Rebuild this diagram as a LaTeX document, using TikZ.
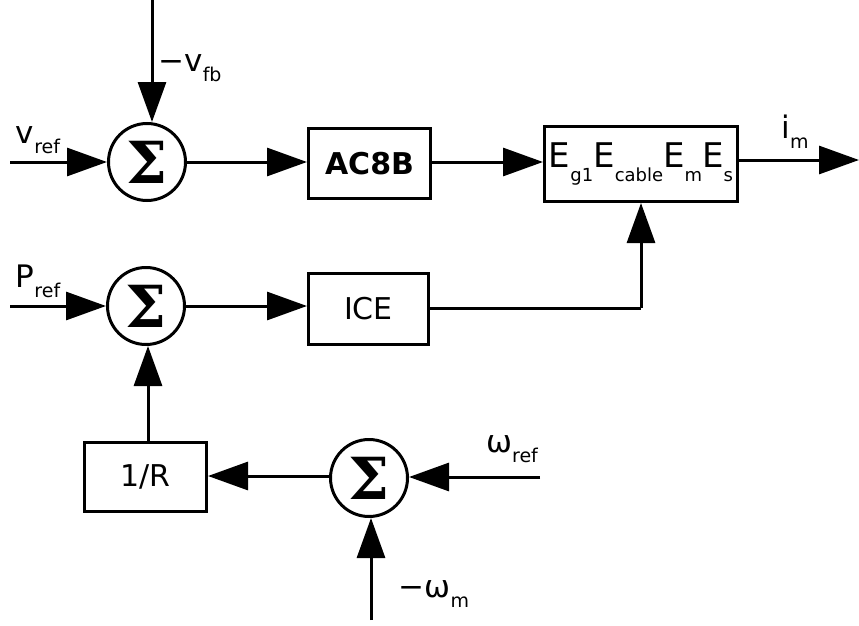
\documentclass[tikz,border=0pt]{standalone}
\usepackage{fontspec}
\setmainfont{DejaVu Sans}
\newfontfamily\sigmafont{DejaVu Serif}
\usetikzlibrary{arrows.meta}

% label with a lowered subscript
\newcommand{\sigsub}[2]{#1\raisebox{-10pt}{\fontsize{19}{19}\selectfont #2}}

\tikzset{
  sumnode/.style={circle, draw, line width=3pt, minimum size=77pt, inner sep=0pt,
    font=\fontsize{58}{58}\selectfont\sigmafont\bfseries},
  blockbox/.style={rectangle, draw, line width=3pt, inner sep=0pt,
    font=\fontsize{30}{30}\selectfont},
  sig/.style={line width=3pt, -{Triangle[length=40pt,width=28pt]}},
  wire/.style={line width=3pt},
  lbl/.style={inner sep=0pt, font=\fontsize{31}{31}\selectfont}
}

\begin{document}
\begin{tikzpicture}[x=1pt,y=-1pt]
\useasboundingbox (0,0) rectangle (859,626);

% Summing junctions
\node[sumnode] (sumv) at (147,162) {Σ};
\node[sumnode] (sump) at (146,306) {Σ};
\node[sumnode] (sumw) at (369,478) {Σ};

% Blocks
\node[blockbox, minimum width=122pt, minimum height=70pt, font=\fontsize{30}{30}\selectfont\bfseries] (ac8b) at (369.5,163.5) {AC8B};
\node[blockbox, minimum width=120pt, minimum height=71pt] (ice) at (368.5,309) {ICE};
\node[blockbox, minimum width=122pt, minimum height=69pt] (gain) at (145.5,477) {1/R};
\node[blockbox, minimum width=193pt, minimum height=75pt, font=\fontsize{34}{34}\selectfont] (plant) at (641,164)
  {E\raisebox{-14pt}{\fontsize{18}{18}\selectfont g1}E\raisebox{-14pt}{\fontsize{18}{18}\selectfont cable}E\raisebox{-14pt}{\fontsize{18}{18}\selectfont m}E\raisebox{-14pt}{\fontsize{18}{18}\selectfont s}};

% Free ends of the inputs and the output
\coordinate (vin) at (10,162);
\coordinate (vfb) at (152,0);
\coordinate (pin) at (10,306);
\coordinate (win) at (540,477);
\coordinate (wm) at (371,620);
\coordinate (imout) at (859,160);
\coordinate (icecorner) at (641,308);

% Top row
\draw[sig] (vin) -- (sumv.west);
\draw[sig] (vfb) -- (vfb |- sumv.north);
\draw[sig] (sumv.east) -- (ac8b.west |- sumv.east);
\draw[sig] (ac8b.east |- sumv.east) -- (plant.west |- sumv.east);
\draw[sig] (plant.east |- imout) -- (imout);

% Middle row
\draw[sig] (pin) -- (sump.west);
\draw[sig] (sump.east) -- (ice.west |- sump.east);
\draw[wire] (ice.east |- icecorner) -- (icecorner);
\draw[sig] (icecorner) -- (plant.south -| icecorner);

% Bottom row
\draw[sig] (win) -- (sumw.east |- win);
\draw[sig] (wm) -- (wm |- sumw.south);
\draw[sig] (sumw.west |- 0,476) -- (gain.east |- 0,476);
\draw[sig] (gain.north -| 148,0) -- (sump.south -| 148,0);

% Signal labels
\node[lbl] (vreflbl) at (38,140) {\sigsub{v}{ref}};
\node[lbl] (vfblbl) at (190,68) {\sigsub{−v}{fb}};
\node[lbl] (preflbl) at (38,281) {\sigsub{P}{ref}};
\node[lbl] (imlbl) at (795,132) {\sigsub{i}{m}};
\node[lbl] (wreflbl) at (512,449) {\sigsub{ω}{ref}};
\node[lbl] (wmlbl) at (434,594) {\sigsub{−ω}{m}};
\end{tikzpicture}
\end{document}
